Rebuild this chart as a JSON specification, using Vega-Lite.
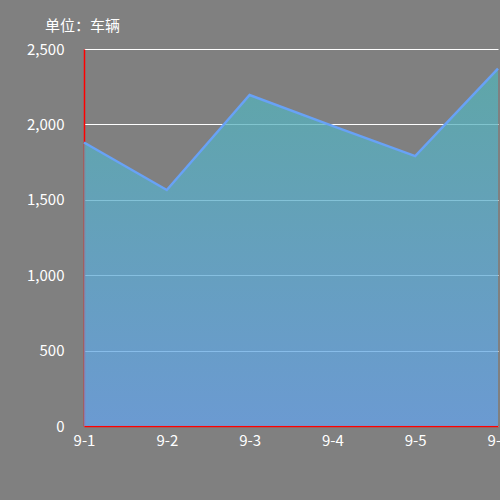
{
  "$schema": "https://vega.github.io/schema/vega-lite/v6.json",
  "autosize": "none",
  "width": 414,
  "height": 377,
  "padding": {"left": 84, "top": 49, "right": 2, "bottom": 74},
  "background": "#808080",
  "title": {
    "text": "单位：车辆",
    "anchor": "start",
    "frame": "group",
    "dx": -39,
    "offset": 8,
    "fontSize": 15,
    "fontWeight": "normal",
    "color": "#ffffff",
    "font": "Noto Sans CJK SC"
  },
  "data": {
    "values": [
      {"day": "9-1", "count": 1880},
      {"day": "9-2", "count": 1565},
      {"day": "9-3", "count": 2195},
      {"day": "9-4", "count": 1990},
      {"day": "9-5", "count": 1790},
      {"day": "9-6", "count": 2370}
    ]
  },
  "encoding": {
    "x": {
      "field": "day",
      "type": "ordinal",
      "scale": {"type": "point", "padding": 0},
      "axis": {
        "title": null,
        "labelAngle": 0,
        "labelColor": "#ffffff",
        "labelFontSize": 15,
        "labelPadding": 7,
        "ticks": false,
        "grid": false,
        "domainColor": "#ff0000",
        "domainWidth": 1.5
      }
    },
    "y": {
      "field": "count",
      "type": "quantitative",
      "scale": {"domain": [0, 2500]},
      "axis": {
        "title": null,
        "values": [0, 500, 1000, 1500, 2000, 2500],
        "format": ",d",
        "labelColor": "#ffffff",
        "labelFontSize": 15,
        "labelPadding": 20,
        "ticks": false,
        "gridColor": "#ffffff",
        "gridOpacity": 1,
        "domainColor": "#ff0000",
        "domainWidth": 1.5
      }
    }
  },
  "layer": [
    {
      "mark": {
        "type": "area",
        "opacity": 0.75,
        "color": {
          "gradient": "linear",
          "x1": 0, "y1": 0, "x2": 0, "y2": 1,
          "stops": [
            {"offset": 0, "color": "#54b3b5"},
            {"offset": 1, "color": "#64a3ed"}
          ]
        }
      }
    },
    {
      "mark": {"type": "line", "color": "#68a2f6", "strokeWidth": 2.5}
    }
  ],
  "config": {
    "font": "Noto Sans CJK SC",
    "view": {"stroke": null}
  }
}
